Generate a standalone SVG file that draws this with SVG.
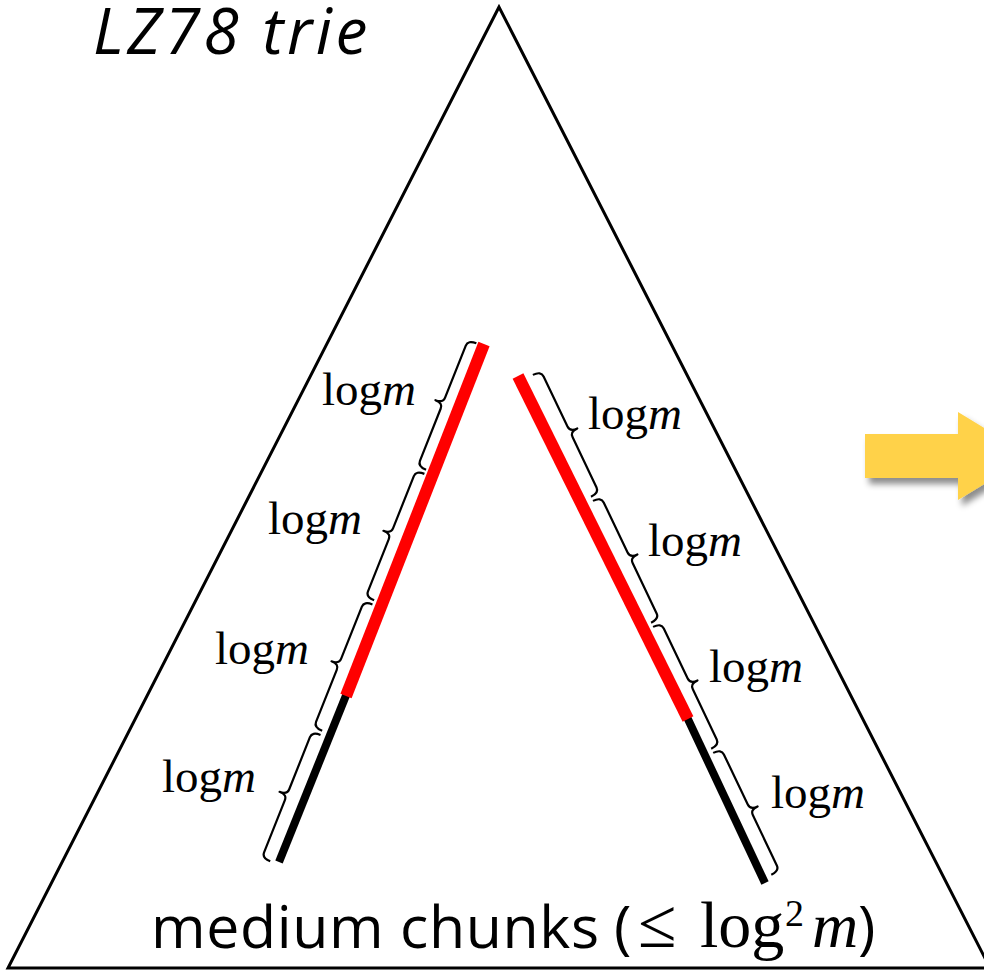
<svg xmlns="http://www.w3.org/2000/svg" xmlns:xlink="http://www.w3.org/1999/xlink" width="984" height="970" viewBox="0 0 984 970">
<style>
.tri{fill:none;stroke:#000;stroke-width:3;stroke-linejoin:miter}
.brace{fill:none;stroke:#000;stroke-width:2.2;stroke-linejoin:round}
.red{stroke:#FF0000;stroke-width:12;stroke-linecap:butt}
.blk{stroke:#000;stroke-width:8;stroke-linecap:butt}
.lbl{font-family:"Liberation Serif","Times New Roman",serif;font-size:47px;fill:#000}
.it{font-style:italic}
.sans{font-family:"Open Sans","Noto Sans",sans-serif;fill:#000}
.serif{font-family:"Liberation Serif","Times New Roman",serif;fill:#000}
</style>
<defs>
<path id="braceL" d="M0,-9 C0,-3 2,0 6,0 L62,0 C66,0 68,2 68,8 C68,2 70,0 74,0 L130,0 C134,0 136,-3 136,-9"/>
<path id="braceR" d="M0,-9 C0,-3 2,0 6,0 L61.5,0 C65.5,0 67.5,2 67.5,8 C67.5,2 69.5,0 73.5,0 L129,0 C133,0 135,-3 135,-9"/>
<filter id="shadow" x="-20%" y="-30%" width="160%" height="180%">
<feDropShadow dx="4" dy="6" stdDeviation="3" flood-color="#000" flood-opacity="0.45"/>
</filter>
</defs>

<g id="trie">
<polygon class="tri" points="499,7 8,968 990,968"/>
</g>

<g id="title">
<text class="sans" x="93" y="54" font-size="64" font-style="italic" letter-spacing="3.5">LZ78 trie</text>
</g>

<g id="left-path">
<line class="blk" x1="347" y1="693" x2="279" y2="862"/>
<line class="red" x1="484" y1="344" x2="346" y2="696"/>
</g>

<g id="right-path">
<line class="blk" x1="686" y1="715" x2="765" y2="883"/>
<line class="red" x1="518" y1="376" x2="688" y2="719"/>
</g>

<g id="left-braces" transform="translate(468,340) rotate(111.7)">
<use xlink:href="#braceL" class="brace" x="0"/>
<use xlink:href="#braceL" class="brace" x="140.5"/>
<use xlink:href="#braceL" class="brace" x="281"/>
<use xlink:href="#braceL" class="brace" x="421.5"/>
</g>

<g id="right-braces" transform="translate(541,371) rotate(64.5) scale(1,-1)">
<use xlink:href="#braceR" class="brace" x="0"/>
<use xlink:href="#braceR" class="brace" x="139.6"/>
<use xlink:href="#braceR" class="brace" x="279.2"/>
<use xlink:href="#braceR" class="brace" x="418.8"/>
</g>

<g id="left-labels">
<text class="lbl" x="322" y="405">log<tspan class="it">m</tspan></text>
<text class="lbl" x="268" y="534">log<tspan class="it">m</tspan></text>
<text class="lbl" x="215" y="664">log<tspan class="it">m</tspan></text>
<text class="lbl" x="162" y="792">log<tspan class="it">m</tspan></text>
</g>

<g id="right-labels">
<text class="lbl" x="588" y="429">log<tspan class="it">m</tspan></text>
<text class="lbl" x="648" y="556">log<tspan class="it">m</tspan></text>
<text class="lbl" x="709" y="682">log<tspan class="it">m</tspan></text>
<text class="lbl" x="771" y="808">log<tspan class="it">m</tspan></text>
</g>

<g id="caption">
<text class="sans" x="151" y="948" font-size="59" textLength="448" lengthAdjust="spacing">medium chunks</text>
<text class="sans" x="614" y="948" font-size="59">(</text>
<text class="serif" x="638" y="947" font-size="70">≤</text>
<text class="serif" x="700" y="947" font-size="66">log</text>
<text class="serif" x="785" y="926" font-size="38">2</text>
<text class="serif" x="812" y="947" font-size="64" font-style="italic">m</text>
<text class="sans" x="858" y="948" font-size="59">)</text>
</g>

<g id="arrow">
<polygon points="865,434 958,434 958,412 1030,456 958,500 958,478 865,478" fill="#FFD249" filter="url(#shadow)"/>
</g>
</svg>
